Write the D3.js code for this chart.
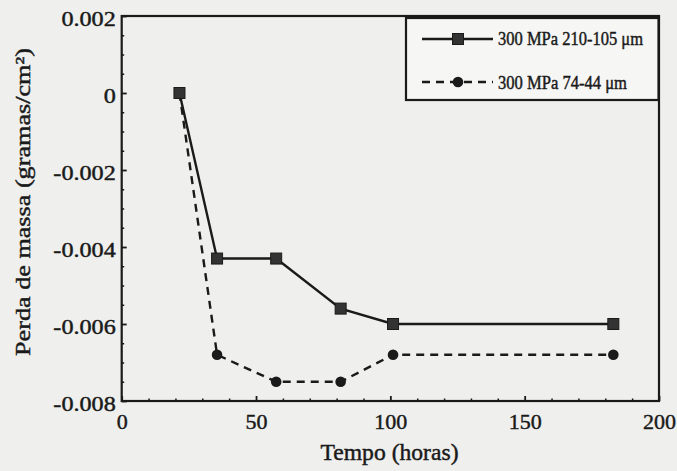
<!DOCTYPE html>
<html>
<head>
<meta charset="utf-8">
<script src="https://cdn.jsdelivr.net/npm/d3@7"></script>
<style>
  html, body { margin: 0; padding: 0; background: #efefed; }
  svg { display: block; }
  text { font-family: "Liberation Serif", "Times New Roman", serif; fill: #1a1a1a; stroke: #1a1a1a; stroke-width: 0.45px; }
</style>
</head>
<body>
<svg id="chart" width="677" height="471"></svg>
<script>
// ---- data ----
const hours = [21.5, 35.5, 57.5, 81.5, 101, 183];
const massCoarse = [0, -0.0043, -0.0043, -0.0056, -0.0060, -0.0060];   // 300 MPa 210-105 µm
const massFine   = [0, -0.0068, -0.0075, -0.0075, -0.0068, -0.0068];   // 300 MPa 74-44 µm
const seriesNames = ["300 MPa 210-105 \u03bcm", "300 MPa 74-44 \u03bcm"];
const xTickValues = [0, 50, 100, 150, 200];
const xTickLabels = ["0", "50", "100", "150", "200"];
const yTickValues = [0.002, 0, -0.002, -0.004, -0.006, -0.008];
const yTickLabels = ["0.002", "0", "-0.002", "-0.004", "-0.006", "-0.008"];
const xTitle = "Tempo (horas)";
const yTitle = "Perda de massa (gramas/cm\u00b2)";

// ---- layout ----
const L = 121.7, R = 659, T = 16, B = 401;
const ink = "#1a1a1a";
const svg = d3.select("#chart");

const x = d3.scaleLinear().domain([0, 200]).range([L, R]);
const y = d3.scaleLinear().domain([-0.008, 0.002]).range([B, T]);

// minor ticks
const xMinor = d3.range(0, 201, 10).filter(v => v % 50 !== 0);
const yMinor = d3.range(-0.008, 0.00201, 0.0005).map(v => +v.toFixed(4)).filter(v => Math.abs((v / 0.002) - Math.round(v / 0.002)) > 1e-6);

svg.append("g").attr("transform", `translate(0,${B})`)
  .call(d3.axisBottom(x).tickValues(xMinor).tickSize(-2.5).tickFormat(""))
  .call(g => g.select(".domain").remove())
  .selectAll("line").attr("stroke", ink).attr("stroke-width", 1.5);

svg.append("g").attr("transform", `translate(${L},0)`)
  .call(d3.axisLeft(y).tickValues(yMinor).tickSize(-2.5).tickFormat(""))
  .call(g => g.select(".domain").remove())
  .selectAll("line").attr("stroke", ink).attr("stroke-width", 1.5);

// major x axis
const gx = svg.append("g").attr("transform", `translate(0,${B})`)
  .call(d3.axisBottom(x).tickValues(xTickValues).tickSize(-5).tickPadding(12)
    .tickFormat((d, i) => xTickLabels[i]));
gx.select(".domain").remove();
gx.selectAll("line").attr("stroke", ink).attr("stroke-width", 1.8);
gx.selectAll("text").attr("font-size", 22).attr("fill", ink);

// major y axis
const gy = svg.append("g").attr("transform", `translate(${L},0)`)
  .call(d3.axisLeft(y).tickValues(yTickValues).tickSize(-5)
    .tickFormat((d, i) => yTickLabels[i]));
gy.select(".domain").remove();
gy.selectAll("line").attr("stroke", ink).attr("stroke-width", 1.8);
gy.selectAll("text")
  .attr("x", 0).attr("dy", null)
  .attr("transform", "translate(-6,9) scale(1.15,1)")
  .attr("font-size", 21).attr("fill", ink);

// frame
svg.append("rect").attr("x", L).attr("y", T).attr("width", R - L).attr("height", B - T)
  .attr("fill", "none").attr("stroke", ink).attr("stroke-width", 2.2);

// series lines
const line = d3.line().x(d => x(d[0])).y(d => y(d[1]));
const fineData = hours.map((h, i) => [h, massFine[i]]);
const coarseData = hours.map((h, i) => [h, massCoarse[i]]);

svg.append("path").datum(fineData).attr("d", line)
  .attr("fill", "none").attr("stroke", ink).attr("stroke-width", 2.4)
  .attr("stroke-dasharray", "8,6");
svg.append("g").selectAll("circle").data(fineData).join("circle")
  .attr("cx", d => x(d[0])).attr("cy", d => y(d[1])).attr("r", 5.3).attr("fill", ink);

svg.append("path").datum(coarseData).attr("d", line)
  .attr("fill", "none").attr("stroke", ink).attr("stroke-width", 2.4);
svg.append("g").selectAll("rect").data(coarseData).join("rect")
  .attr("x", d => x(d[0]) - 5.5).attr("y", d => y(d[1]) - 5.5)
  .attr("width", 11).attr("height", 11)
  .attr("fill", "#333").attr("stroke", ink).attr("stroke-width", 1);

// legend
const lg = svg.append("g");
lg.append("rect").attr("x", 406).attr("y", 18).attr("width", 252.5).attr("height", 82)
  .attr("fill", "#f6f6f4").attr("stroke", ink).attr("stroke-width", 2.2);
// entry 1
lg.append("line").attr("x1", 422).attr("x2", 493).attr("y1", 39).attr("y2", 39)
  .attr("stroke", ink).attr("stroke-width", 2.4);
lg.append("rect").attr("x", 452.5).attr("y", 33.5).attr("width", 11).attr("height", 11)
  .attr("fill", "#333").attr("stroke", ink);
lg.append("text").attr("x", 498).attr("y", 45).attr("font-size", 19)
  .attr("textLength", 145).attr("lengthAdjust", "spacingAndGlyphs").text(seriesNames[0]);
// entry 2
lg.append("line").attr("x1", 422).attr("x2", 493).attr("y1", 82).attr("y2", 82)
  .attr("stroke", ink).attr("stroke-width", 2.4).attr("stroke-dasharray", "8,6");
lg.append("circle").attr("cx", 458).attr("cy", 82).attr("r", 5.3).attr("fill", ink);
lg.append("text").attr("x", 498).attr("y", 89).attr("font-size", 19)
  .attr("textLength", 129).attr("lengthAdjust", "spacingAndGlyphs").text(seriesNames[1]);

// axis titles
svg.append("text").attr("x", 389.5).attr("y", 460).attr("text-anchor", "middle")
  .attr("font-size", 23).attr("textLength", 138).attr("lengthAdjust", "spacingAndGlyphs")
  .text(xTitle);
svg.append("text").attr("transform", "translate(30,202) rotate(-90)")
  .attr("text-anchor", "middle").attr("font-size", 22)
  .attr("textLength", 308).attr("lengthAdjust", "spacingAndGlyphs")
  .text(yTitle);
</script>
</body>
</html>
